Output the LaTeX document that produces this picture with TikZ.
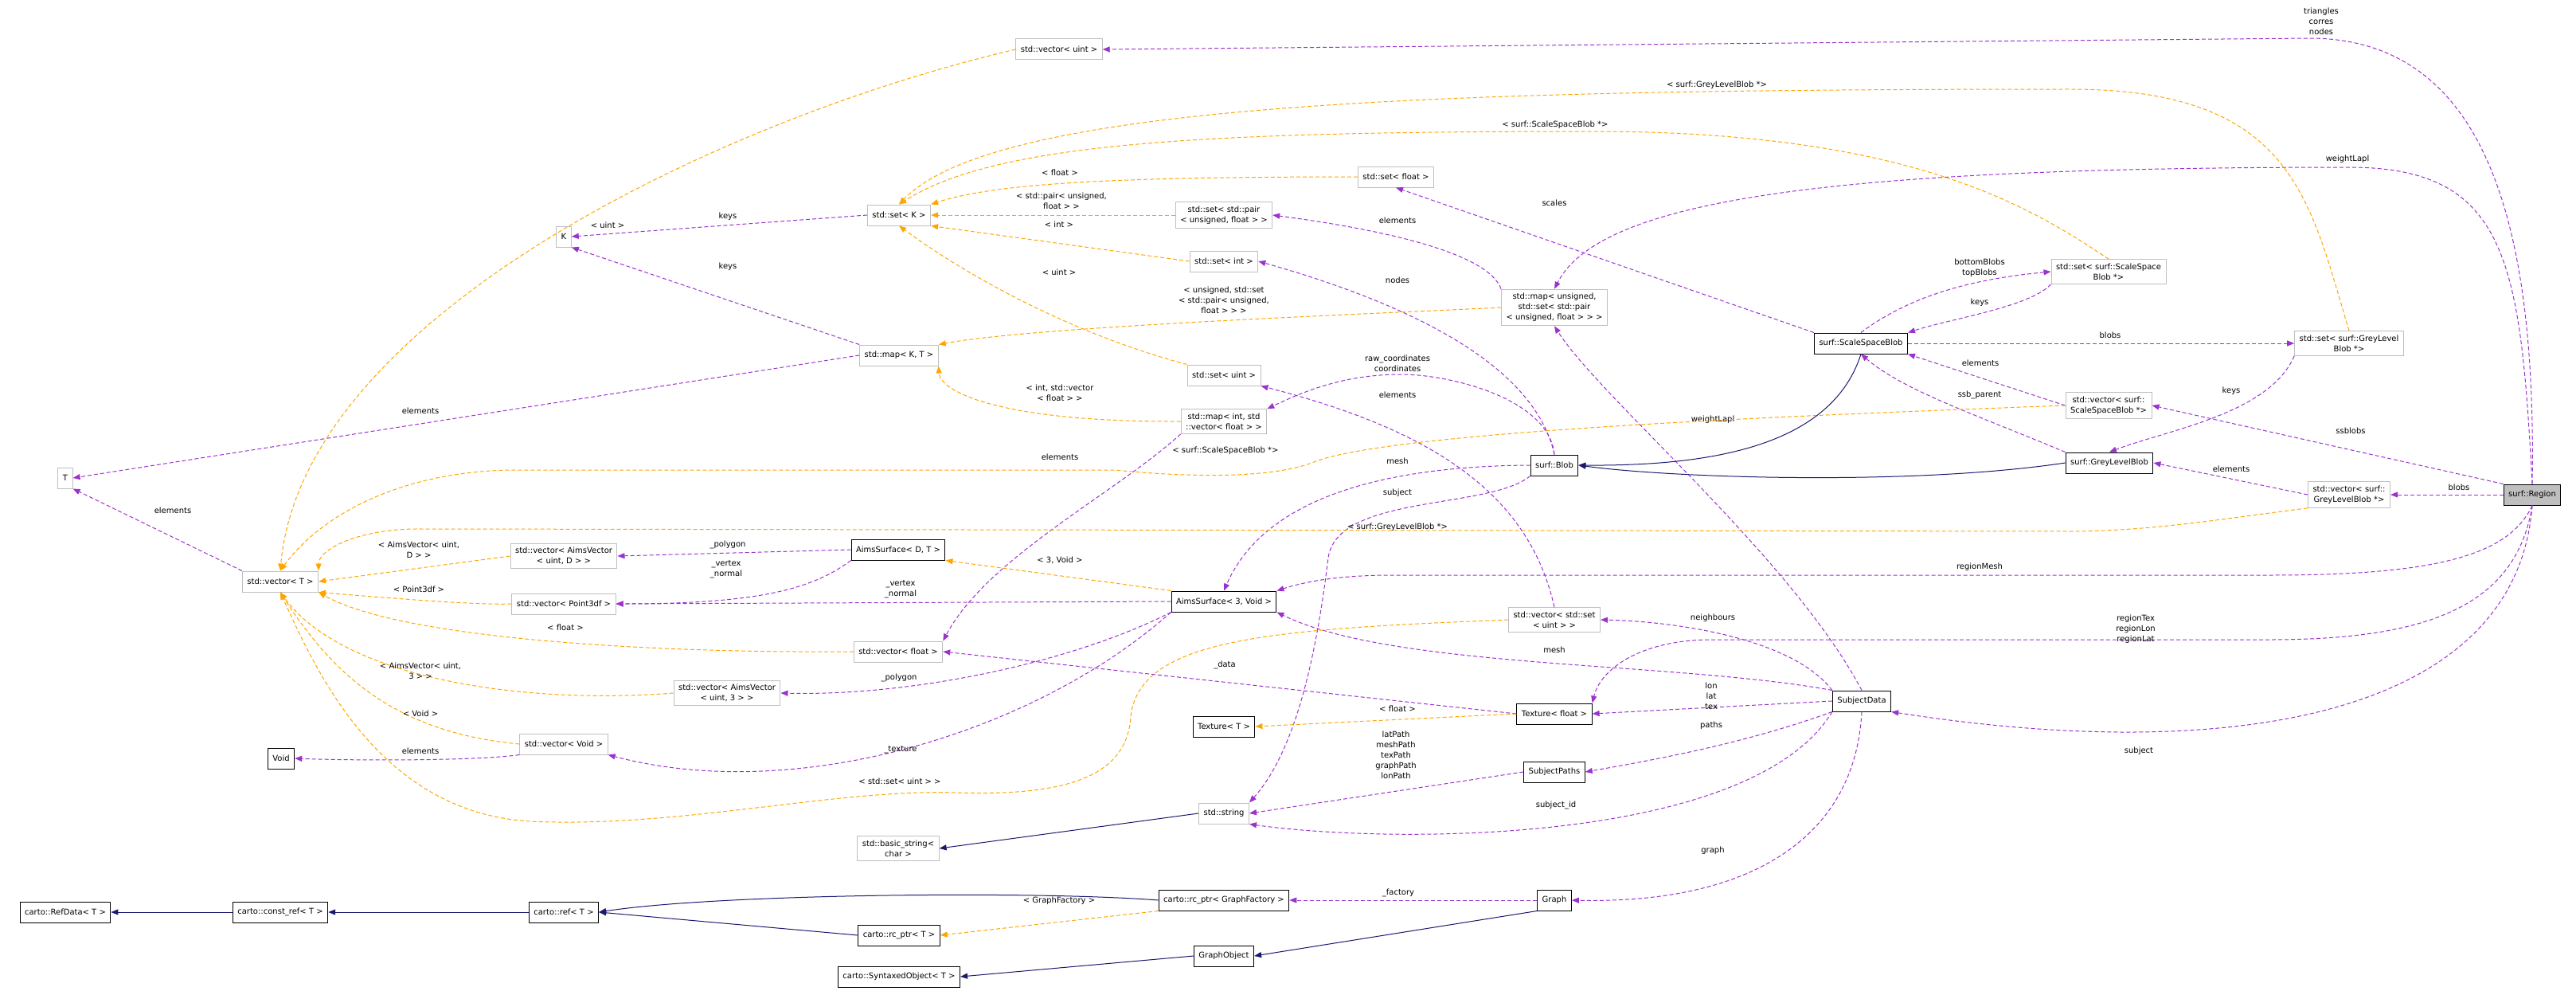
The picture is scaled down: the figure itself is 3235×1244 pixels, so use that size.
\documentclass[tikz,border=0pt]{standalone}
\usepackage{fontspec}
\setmainfont{DejaVu Sans}
\usetikzlibrary{arrows.meta}
\definecolor{usec}{HTML}{9A32CD}
\definecolor{tplc}{HTML}{FFA500}
\definecolor{inhc}{HTML}{191970}
\definecolor{extc}{HTML}{BFBFBF}
\begin{document}
\begin{tikzpicture}[x=1pt,y=-1pt,
  every node/.style={font=\fontsize{10}{13}\selectfont},
  box/.style={draw,align=center,inner xsep=6pt,inner ysep=5pt,minimum height=26pt,fill=white},
  cls/.style={box,draw=black,line width=1pt},
  ext/.style={box,draw=extc,line width=1pt},
  mainc/.style={box,draw=black,fill=extc,line width=1pt},
  use/.style={draw=usec,line width=1pt,dash pattern=on 5pt off 3pt,-{Triangle[length=9pt,width=7pt]}},
  tpl/.style={draw=tplc,line width=1pt,dash pattern=on 5pt off 3pt,-{Triangle[length=9pt,width=7pt]}},
  inh/.style={draw=inhc,line width=1pt,-{Triangle[length=9pt,width=7pt]}},
  lbl/.style={align=center,inner sep=1pt}]
\useasboundingbox (0,0) rectangle (3235,1244);
% nodes
\node[ext] (vecuint) at (1330,62) {std::vector< uint >};
\node[ext] (stdsetK) at (1129,270) {std::set< K >};
\node[ext] (K) at (708,297) {K};
\node[ext] (setfloat) at (1753,222) {std::set< float >};
\node[ext] (setpair) at (1537,270) {std::set< std::pair\\< unsigned, float > >};
\node[ext] (setint) at (1537,328) {std::set< int >};
\node[ext] (mapus) at (1952,386) {std::map< unsigned,\\std::set< std::pair\\< unsigned, float > > >};
\node[ext] (mapKT) at (1129,446) {std::map< K, T >};
\node[ext] (setuint) at (1537,471) {std::set< uint >};
\node[ext] (mapint) at (1537,529) {std::map< int, std\\::vector< float > >};
\node[ext] (T) at (82,600) {T};
\node[ext] (vecT) at (352,730) {std::vector< T >};
\node[ext] (vecAimsD) at (708,698) {std::vector< AimsVector\\< uint, D > >};
\node[cls] (ASDT) at (1128,690) {AimsSurface< D, T >};
\node[ext] (vecP3) at (708,758) {std::vector< Point3df >};
\node[cls] (AS3) at (1537,755) {AimsSurface< 3, Void >};
\node[ext] (vecfloat) at (1128,818) {std::vector< float >};
\node[ext] (vecA3) at (913,870) {std::vector< AimsVector\\< uint, 3 > >};
\node[ext] (vecVoid) at (708,934) {std::vector< Void >};
\node[cls] (Void) at (353,952) {Void};
\node[ext] (bstring) at (1128,1065) {std::basic\_string<\\char >};
\node[cls] (RefData) at (82,1145) {carto::RefData< T >};
\node[cls] (constref) at (352,1145) {carto::const\_ref< T >};
\node[cls] (ref) at (708,1145) {carto::ref< T >};
\node[cls] (rcptrT) at (1129,1174) {carto::rc\_ptr< T >};
\node[cls] (synt) at (1129,1226) {carto::SyntaxedObject< T >};
\node[cls] (Blob) at (1952,584) {surf::Blob};
\node[ext] (setSSB) at (2648,341) {std::set< surf::ScaleSpace\\Blob *>};
\node[cls] (SSB) at (2337,431) {surf::ScaleSpaceBlob};
\node[ext] (setGLB) at (2950,431) {std::set< surf::GreyLevel\\Blob *>};
\node[ext] (vecSSB) at (2648,509) {std::vector< surf::\\ScaleSpaceBlob *>};
\node[cls] (GLB) at (2649,581) {surf::GreyLevelBlob};
\node[ext] (vecGLB) at (2950,621) {std::vector< surf::\\GreyLevelBlob *>};
\node[mainc] (Region) at (3180,621) {surf::Region};
\node[ext] (vecsetuint) at (1952,778) {std::vector< std::set\\< uint > >};
\node[cls] (Texf) at (1952,896) {Texture< float >};
\node[cls] (TexT) at (1537,912) {Texture< T >};
\node[cls] (SD) at (2338,880) {SubjectData};
\node[cls] (SP) at (1952,969) {SubjectPaths};
\node[ext] (string) at (1537,1021) {std::string};
\node[cls] (rcGF) at (1537,1130) {carto::rc\_ptr< GraphFactory >};
\node[cls] (Graph) at (1952,1130) {Graph};
\node[cls] (GO) at (1537,1200) {GraphObject};
% usage edges
\draw[use] (Region.north) .. controls (3185,300) and (3130,48) .. (2900,48) -- (vecuint.east) node[lbl] at (2915,27) {triangles\\corres\\nodes};
\draw[use] (Region.north) .. controls (3165,330) and (3150,210) .. (2950,210) .. controls (2300,210) and (2010,250) .. (mapus.north) node[lbl] at (2948,200) {weightLapl};
\draw[use] (Region.north west) -- (vecSSB.east) node[lbl] at (2952,541) {ssblobs};
\draw[use] (Region.west) -- (vecGLB.east) node[lbl] at (3088,612) {blobs};
\draw[use] (Region.south) .. controls (3150,700) and (3050,722) .. (2850,722) -- (1750,722) .. controls (1680,722) and (1640,730) .. (AS3.north east) node[lbl] at (2486,712) {regionMesh};
\draw[use] (Region.south) .. controls (3160,760) and (3050,803) .. (2850,803) -- (2150,803) .. controls (2060,803) and (2010,840) .. (Texf.north east) node[lbl] at (2682,790) {regionTex\\regionLon\\regionLat};
\draw[use] (Region.south) .. controls (3160,900) and (2800,960) .. (SD.south east) node[lbl] at (2686,943) {subject};
\draw[use] (vecGLB.west) -- (GLB.east) node[lbl] at (2802,589) {elements};
\draw[use] (setGLB.south west) .. controls (2850,520) and (2720,540) .. (GLB.north) node[lbl] at (2802,491) {keys};
\draw[use] (SSB.east) -- (setGLB.west) node[lbl] at (2650,421) {blobs};
\draw[use] (SSB.north) .. controls (2400,370) and (2480,350) .. (setSSB.west) node[lbl] at (2486,336) {bottomBlobs\\topBlobs};
\draw[use] (setSSB.south west) .. controls (2550,385) and (2450,400) .. (SSB.north east) node[lbl] at (2486,380) {keys};
\draw[use] (vecSSB.west) -- (SSB.south east) node[lbl] at (2487,456) {elements};
\draw[use] (GLB.north west) .. controls (2480,520) and (2390,490) .. (SSB.south) node[lbl] at (2486,496) {ssb\_parent};
\draw[use] (SSB.north west) -- (setfloat.south) node[lbl] at (1952,255) {scales};
\draw[use] (SD.north) .. controls (2250,700) and (2010,500) .. (mapus.south) node[lbl] at (2151,527) {weightLapl};
\draw[use] (mapus.north west) .. controls (1870,320) and (1750,290) .. (setpair.east) node[lbl] at (1755,277) {elements};
\draw[use] (Blob.north) .. controls (1930,470) and (1800,390) .. (setint.east) node[lbl] at (1755,352) {nodes};
\draw[use] (Blob.north) .. controls (1945,500) and (1820,470) .. (1760,470) .. controls (1690,470) and (1640,490) .. (mapint.north east) node[lbl] at (1755,456) {raw\_coordinates\\coordinates};
\draw[use] (vecsetuint.north) .. controls (1920,620) and (1800,540) .. (setuint.south east) node[lbl] at (1755,496) {elements};
\draw[use] (Blob.west) .. controls (1750,585) and (1590,620) .. (AS3.north) node[lbl] at (1755,579) {mesh};
\draw[use] (Blob.south west) .. controls (1870,640) and (1680,620) .. (1668,700) .. controls (1650,850) and (1620,950) .. (string.north east) node[lbl] at (1755,619) {subject};
\draw[use] (mapint.south west) .. controls (1400,620) and (1240,700) .. (vecfloat.north east) node[lbl] at (1331,574) {elements};
\draw[use] (mapKT.west) -- (T.east) node[lbl] at (528,516) {elements};
\draw[use] (stdsetK.west) -- (K.east) node[lbl] at (914,272) {keys};
\draw[use] (mapKT.north west) -- (K.south east) node[lbl] at (914,335) {keys};
\draw[use] (vecT.north west) -- (T.south east) node[lbl] at (217,641) {elements};
\draw[use] (ASDT.west) -- (vecAimsD.east) node[lbl] at (914,684) {\_polygon};
\draw[use] (ASDT.south west) .. controls (1020,740) and (950,758) .. (vecP3.east) node[lbl] at (912,715) {\_vertex\\\_normal};
\draw[use] (AS3.west) -- (vecP3.east) node[lbl] at (1131,740) {\_vertex\\\_normal};
\draw[use] (AS3.south west) .. controls (1350,830) and (1150,874) .. (vecA3.east) node[lbl] at (1129,851) {\_polygon};
\draw[use] (AS3.south west) .. controls (1300,920) and (1000,1010) .. (vecVoid.south east) node[lbl] at (1131,941) {\_texture};
\draw[use] (Texf.west) -- (vecfloat.east) node[lbl] at (1538,835) {\_data};
\draw[use] (vecVoid.south west) .. controls (600,955) and (450,955) .. (Void.east) node[lbl] at (528,943) {elements};
\draw[use] (SD.north west) .. controls (2250,800) and (2100,780) .. (vecsetuint.east) node[lbl] at (2151,776) {neighbours};
\draw[use] (SD.north west) .. controls (2100,830) and (1750,840) .. (AS3.south east) node[lbl] at (1952,816) {mesh};
\draw[use] (SD.west) -- (Texf.east) node[lbl] at (2149,874) {lon\\lat\\tex};
\draw[use] (SD.south west) .. controls (2200,930) and (2100,950) .. (SP.east) node[lbl] at (2149,911) {paths};
\draw[use] (SD.south west) .. controls (2200,1060) and (1750,1060) .. (string.south east) node[lbl] at (1954,1011) {subject\_id};
\draw[use] (SD.south) .. controls (2330,1050) and (2200,1135) .. (Graph.east) node[lbl] at (2151,1068) {graph};
\draw[use] (SP.west) -- (string.east) node[lbl] at (1753,948) {latPath\\meshPath\\texPath\\graphPath\\lonPath};
\draw[use] (Graph.west) -- (rcGF.east) node[lbl] at (1756,1121) {\_factory};
% template edges
\draw[tpl] (vecuint.west) .. controls (900,150) and (380,400) .. (vecT.north) node[lbl] at (763,283) {< uint >};
\draw[tpl] (setGLB.north) .. controls (2900,250) and (2880,112) .. (2600,112) .. controls (1800,112) and (1250,130) .. (stdsetK.north) node[lbl] at (2156,107) {< surf::GreyLevelBlob *>};
\draw[tpl] (setSSB.north) .. controls (2550,260) and (2400,165) .. (2000,165) .. controls (1500,165) and (1250,180) .. (stdsetK.north) node[lbl] at (1953,157) {< surf::ScaleSpaceBlob *>};
\draw[tpl] (setfloat.west) .. controls (1400,222) and (1250,230) .. (stdsetK.north east) node[lbl] at (1331,217) {< float >};
\draw[tpl] (setpair.west) -- (stdsetK.east) node[lbl] at (1333,252) {< std::pair< unsigned,\\float > >};
\draw[tpl] (setint.west) -- (stdsetK.south east) node[lbl] at (1330,282) {< int >};
\draw[tpl] (setuint.north west) .. controls (1350,420) and (1220,350) .. (stdsetK.south) node[lbl] at (1330,342) {< uint >};
\draw[tpl] (mapus.west) .. controls (1700,395) and (1300,410) .. (mapKT.north east) node[lbl] at (1537,377) {< unsigned, std::set\\< std::pair< unsigned,\\float > > >};
\draw[tpl] (mapint.west) .. controls (1250,530) and (1180,490) .. (mapKT.south east) node[lbl] at (1331,493) {< int, std::vector\\< float > >};
\draw[tpl] (vecSSB.west) .. controls (2300,520) and (1750,540) .. (1650,580) .. controls (1600,600) and (1500,600) .. (1400,590) -- (650,590) .. controls (500,590) and (400,650) .. (vecT.north) node[lbl] at (1539,566) {< surf::ScaleSpaceBlob *>};
\draw[tpl] (vecGLB.south west) .. controls (2800,650) and (2700,667) .. (2600,667) -- (530,664) .. controls (450,663) and (400,690) .. (vecT.north east) node[lbl] at (1755,662) {< surf::GreyLevelBlob *>};
\draw[tpl] (vecAimsD.west) -- (vecT.east) node[lbl] at (526,690) {< AimsVector< uint,\\D > >};
\draw[tpl] (vecP3.west) .. controls (600,760) and (480,750) .. (vecT.south east) node[lbl] at (526,740) {< Point3df >};
\draw[tpl] (vecfloat.west) .. controls (800,820) and (500,800) .. (vecT.south east) node[lbl] at (710,788) {< float >};
\draw[tpl] (vecA3.west) .. controls (650,885) and (430,850) .. (vecT.south) node[lbl] at (528,842) {< AimsVector< uint,\\3 > >};
\draw[tpl] (vecVoid.west) .. controls (500,920) and (420,850) .. (vecT.south) node[lbl] at (528,896) {< Void >};
\draw[tpl] (vecsetuint.west) .. controls (1600,790) and (1430,800) .. (1420,900) .. controls (1415,970) and (1350,1000) .. (1200,995) .. controls (1050,990) and (850,1040) .. (666,1031) .. controls (480,1020) and (400,850) .. (vecT.south) node[lbl] at (1130,981) {< std::set< uint > >};
\draw[tpl] (AS3.north west) -- (ASDT.south east) node[lbl] at (1331,703) {< 3, Void >};
\draw[tpl] (Texf.west) -- (TexT.east) node[lbl] at (1755,890) {< float >};
\draw[tpl] (rcGF.south west) -- (rcptrT.east) node[lbl] at (1330,1131) {< GraphFactory >};
% inheritance
\draw[inh] (SSB.south) .. controls (2300,560) and (2150,585) .. (Blob.east);
\draw[inh] (GLB.west) .. controls (2400,610) and (2100,600) .. (Blob.east);
\draw[inh] (string.west) -- (bstring.east);
\draw[inh] (rcGF.west) .. controls (1300,1118) and (900,1122) .. (ref.east);
\draw[inh] (rcptrT.west) -- (ref.east);
\draw[inh] (ref.west) -- (constref.east);
\draw[inh] (constref.west) -- (RefData.east);
\draw[inh] (Graph.south west) -- (GO.east);
\draw[inh] (GO.west) -- (synt.east);
\end{tikzpicture}
\end{document}
